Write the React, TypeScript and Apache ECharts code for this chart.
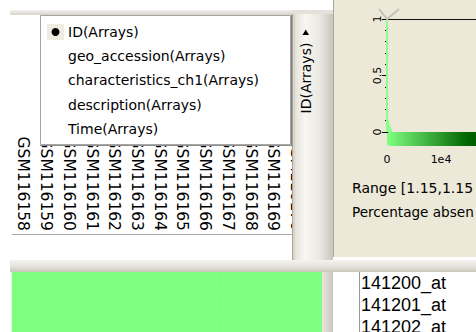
import React, { useEffect, useRef } from "react";
import * as echarts from "echarts";

// ---- data ----
const arrayIds = [
  "GSM116158", "GSM116159", "GSM116160", "GSM116161", "GSM116162", "GSM116163", "GSM116164",
  "GSM116165", "GSM116166", "GSM116167", "GSM116168", "GSM116169", "GSM116170", "GSM116171",
];
const geneIds = ["141200_at", "141201_at", "141202_at"];
// expression values (all equal: Range [1.15,1.15])
const rowValues0 = [1.15, 1.15, 1.15, 1.15, 1.15, 1.15, 1.15, 1.15, 1.15, 1.15, 1.15, 1.15, 1.15, 1.15];
const rowValues1 = [1.15, 1.15, 1.15, 1.15, 1.15, 1.15, 1.15, 1.15, 1.15, 1.15, 1.15, 1.15, 1.15, 1.15];
const rowValues2 = [1.15, 1.15, 1.15, 1.15, 1.15, 1.15, 1.15, 1.15, 1.15, 1.15, 1.15, 1.15, 1.15, 1.15];
const expressionRows = [rowValues0, rowValues1, rowValues2];

// histogram of values (fraction of cells per bin)
const histBinStart = [0, 250, 500, 750];
const histFraction = [1.0, 0.1, 0.06, 0.03];
const histTickLabels: Record<number, string> = { 0: "0", 10000: "1e4" };

const menuItems = [
  "ID(Arrays)",
  "geo_accession(Arrays)",
  "characteristics_ch1(Arrays)",
  "description(Arrays)",
  "Time(Arrays)",
];
const infoLines = ["Range [1.15,1.15", "Percentage absen"];
const tabLabel = "ID(Arrays)";

const FONT = "DejaVu Sans";

export default function App() {
  const ref = useRef<HTMLDivElement>(null);
  useEffect(() => {
    document.body.style.margin = "0";
    const chart = echarts.init(ref.current!, undefined, { renderer: "svg" });

    const heatData: number[][] = [];
    expressionRows.forEach((row, r) => row.forEach((v, c) => heatData.push([c, r, v])));

    const graphics: any[] = [
      // right beige panel
      { type: "rect", z: -5, shape: { x: 334, y: 0, width: 142, height: 258 }, style: { fill: "#ECE9D8" } },
      { type: "line", z: -4, shape: { x1: 333.5, y1: 0, x2: 333.5, y2: 258 }, style: { stroke: "#A8A69E", lineWidth: 1 } },
      { type: "line", z: -4, shape: { x1: 333, y1: 257.5, x2: 476, y2: 257.5 }, style: { stroke: "#FFFFFF", lineWidth: 1 } },
      // top strip over left panel
      {
        type: "rect", z: 10, shape: { x: 10, y: 10, width: 282, height: 5 },
        style: { fill: new echarts.graphic.LinearGradient(0, 0, 0, 1, [{ offset: 0, color: "#F2F1ED" }, { offset: 1, color: "#D6D3CA" }]) },
      },
      // splitter column (tab)
      { type: "rect", z: 10, shape: { x: 292, y: 10, width: 41, height: 250 }, style: { fill: "#D8D4CB" } },
      { type: "line", z: 11, shape: { x1: 292.5, y1: 10, x2: 292.5, y2: 260 }, style: { stroke: "#A9A69D", lineWidth: 1 } },
      {
        type: "rect", z: 11, shape: { x: 295, y: 14, width: 25, height: 246 },
        style: { fill: new echarts.graphic.LinearGradient(0, 0, 1, 0, [{ offset: 0, color: "#E4E2DA" }, { offset: 0.4, color: "#F7F6F2" }, { offset: 1, color: "#EAE8E1" }]) },
      },
      {
        type: "rect", z: 11, shape: { x: 320, y: 10, width: 13, height: 250 },
        style: { fill: new echarts.graphic.LinearGradient(0, 0, 1, 0, [{ offset: 0, color: "#E9E7E0" }, { offset: 1, color: "#C9C5BA" }]) },
      },
      { type: "rect", z: 11, shape: { x: 292, y: 10, width: 41, height: 4 }, style: { fill: "#E3E1DA" } },
      {
        type: "text", z: 12, x: 306, y: 78, rotation: Math.PI / 2,
        style: { text: tabLabel, fontFamily: FONT, fontSize: 14, fill: "#000", textAlign: "center", textVerticalAlign: "middle" },
      },
      { type: "polygon", z: 12, shape: { points: [[302.5, 35], [309, 35], [305.75, 29.5]] }, style: { fill: "#000" } },
      // horizontal splitter
      {
        type: "rect", z: 10, shape: { x: 10, y: 260, width: 466, height: 12 },
        style: { fill: new echarts.graphic.LinearGradient(0, 0, 0, 1, [{ offset: 0, color: "#F4F3EF" }, { offset: 0.5, color: "#E6E4DD" }, { offset: 1, color: "#CCC8BD" }]) },
      },
      // gray strip between heatmap and list
      {
        type: "rect", z: 10, shape: { x: 322, y: 272, width: 11, height: 60 },
        style: { fill: new echarts.graphic.LinearGradient(0, 0, 1, 0, [{ offset: 0, color: "#E8E6DF" }, { offset: 1, color: "#CAC6BB" }]) },
      },
      { type: "line", z: 10, shape: { x1: 359.5, y1: 272, x2: 359.5, y2: 332 }, style: { stroke: "#9A9A9A", lineWidth: 1 } },
      // histogram top marker
      { type: "polyline", z: 5, shape: { points: [[379, 9], [387, 19], [399, 9]] }, style: { stroke: "#C4C2BA", lineWidth: 2, fill: "none" } },
      // info texts
      ...infoLines.map((t, i) => ({
        type: "text", z: 5, x: 352, y: 188 + i * 23.5,
        style: { text: t, fontFamily: FONT, fontSize: i === 0 ? 14 : 13.6, fill: "#000", textVerticalAlign: "middle" },
      })),
      // popup menu
      { type: "rect", z: 20, shape: { x: 40.5, y: 15.5, width: 250, height: 129 }, style: { fill: "#FFFFFF", stroke: "#A5A5A5", lineWidth: 1 } },
      { type: "line", z: 21, shape: { x1: 291.5, y1: 15, x2: 291.5, y2: 146 }, style: { stroke: "#7E7E7E", lineWidth: 1 } },
      { type: "line", z: 21, shape: { x1: 40, y1: 145.5, x2: 292, y2: 145.5 }, style: { stroke: "#8E8E8E", lineWidth: 1 } },
      { type: "rect", z: 21, shape: { x: 47, y: 24, width: 17, height: 16 }, style: { fill: "#EEEBE0" } },
      { type: "circle", z: 22, shape: { cx: 55.5, cy: 32, r: 4 }, style: { fill: "#000" } },
      ...menuItems.map((t, i) => ({
        type: "text", z: 22, x: 68, y: 32 + i * 24.2,
        style: { text: t, fontFamily: FONT, fontSize: 14, fill: "#000", textVerticalAlign: "middle" },
      })),
    ];

    chart.setOption({
      animation: false,
      backgroundColor: "#FFFFFF",
      grid: [
        { left: 12, top: 272, width: 318, height: 66, outerBoundsMode: "none", containLabel: false },
        { left: 387, top: 19, width: 162, height: 113, outerBoundsMode: "none", containLabel: false },
      ],
      xAxis: [
        {
          type: "category", gridIndex: 0, data: arrayIds, position: "top", offset: 38,
          axisLine: { lineStyle: { color: "#A8A8A8", width: 1 } },
          axisTick: { show: false },
          axisLabel: { rotate: 90, interval: 0, margin: 3, fontFamily: FONT, fontSize: 15.5, color: "#000" },
          splitLine: { show: false },
        },
        {
          type: "value", gridIndex: 1, min: 0, max: 30000, interval: 10000, position: "bottom", offset: 14,
          axisLine: { show: true, lineStyle: { color: "#000", width: 1 } },
          axisTick: { show: true, length: 4, lineStyle: { color: "#000" } },
          minorTick: { show: true, splitNumber: 6, length: 2, lineStyle: { color: "#000" } },
          axisLabel: { formatter: (v: number) => histTickLabels[v] ?? "", margin: 8, fontFamily: FONT, fontSize: 11, color: "#000" },
          splitLine: { show: false },
        },
        {
          type: "value", gridIndex: 1, min: 0, max: 30000, position: "top",
          axisLine: { show: true, lineStyle: { color: "#111", width: 1 } },
          axisTick: { show: false }, axisLabel: { show: false }, splitLine: { show: false },
        },
        {
          type: "value", gridIndex: 1, min: 0, max: 30000, position: "bottom", offset: 0,
          axisLine: { show: true, lineStyle: { color: "#111", width: 1 } },
          axisTick: { show: false }, axisLabel: { show: false }, splitLine: { show: false },
        },
      ],
      yAxis: [
        {
          type: "category", gridIndex: 0, data: geneIds, inverse: true, position: "right",
          axisLine: { show: false }, axisTick: { show: false },
          axisLabel: { interval: 0, margin: 31, fontFamily: "Liberation Sans", fontSize: 18, color: "#000" },
          splitLine: { show: false },
        },
        {
          type: "value", gridIndex: 1, min: 0, max: 1, interval: 0.5,
          axisLine: { show: false },
          axisTick: { show: true, length: 5, lineStyle: { color: "#000" } },
          minorTick: { show: true, splitNumber: 5, length: 2, lineStyle: { color: "#000" } },
          axisLabel: { rotate: 90, margin: 4, fontFamily: FONT, fontSize: 11, color: "#000" },
          splitLine: { show: false },
        },
      ],
      visualMap: {
        type: "continuous", seriesIndex: 0, min: 0, max: 30000, orient: "horizontal",
        left: 387, top: 132, itemWidth: 14, itemHeight: 162, padding: 0,
        calculable: false, hoverLink: false,
        inRange: { color: ["#80FF80", "#006400", "#002800"] },
      },
      series: [
        {
          type: "heatmap", xAxisIndex: 0, yAxisIndex: 0, data: heatData,
          itemStyle: { borderWidth: 0 }, emphasis: { disabled: true },
        },
        {
          type: "bar", xAxisIndex: 1, yAxisIndex: 1, barWidth: 2,
          data: histBinStart.map((x, i) => [x, histFraction[i]]),
          itemStyle: { color: "#8CFF8C" },
        },
      ],
      graphic: { elements: graphics },
    });
    return () => chart.dispose();
  }, []);
  return <div ref={ref} style={{ width: 476, height: 332, position: "absolute", left: 0, top: 0 }} />;
}
